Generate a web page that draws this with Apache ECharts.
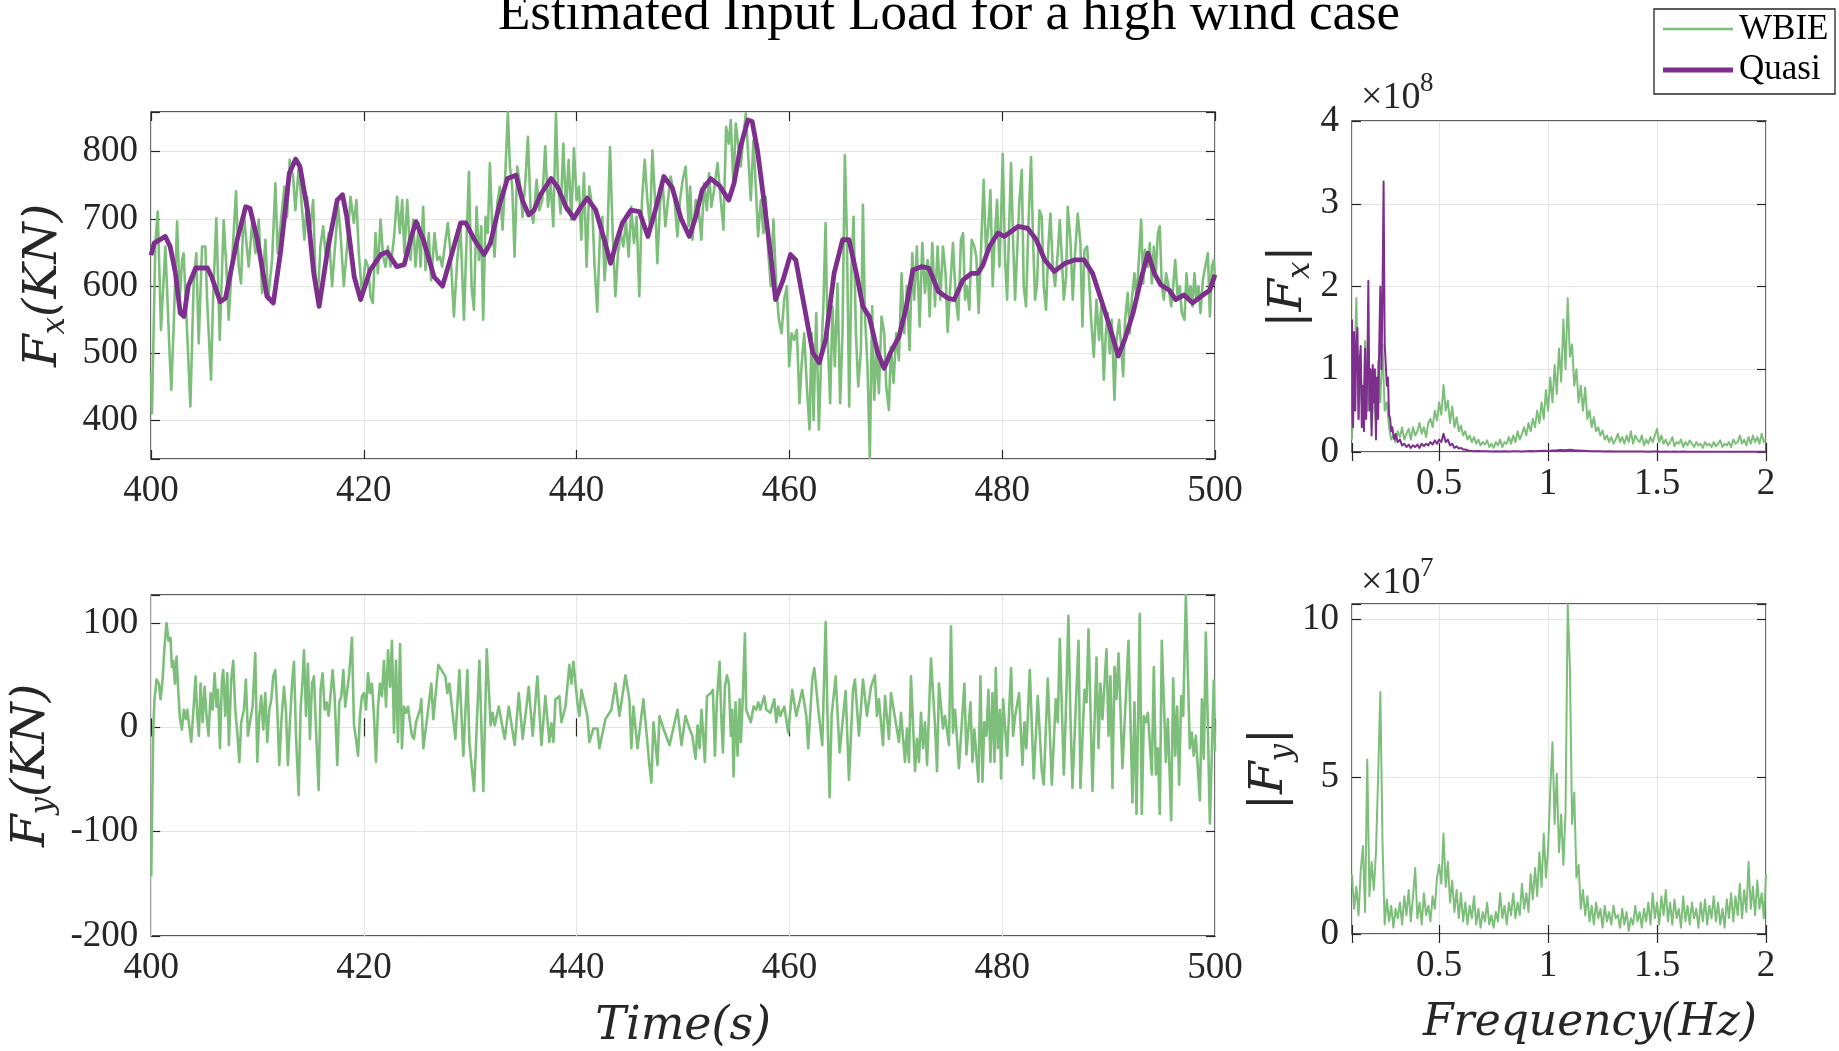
<!DOCTYPE html>
<html><head><meta charset="utf-8">
<script src="https://cdn.jsdelivr.net/npm/echarts@6/dist/echarts.min.js"></script>
<style>html,body{margin:0;padding:0;background:#fff}#c{width:1839px;height:1051px}</style>
</head><body><div id="c"></div>
<script>
// ---------------- data ----------------
const timeTicks = [400, 420, 440, 460, 480, 500];
const fxTicks = [400, 500, 600, 700, 800];
const fyTicks = [-200, -100, 0, 100];
const freqTicks = [0.5, 1, 1.5, 2];
const fxAmpTicks = [0, 1, 2, 3, 4];      // x 10^8
const fyAmpTicks = [0, 5, 10];           // x 10^7

// Fx time history, WBIE (time s, KN)
const wbieFx = [
[400,471],[400.09,411],[400.41,664],[400.63,711],[400.94,535],[401.35,659],[401.76,495],[401.91,446],[402.13,540],[402.45,696],[402.7,580],[402.92,639],[403.07,649],[403.7,421],[404.01,604],[404.26,649],[404.48,515],[404.8,659],[405.11,659],[405.27,580],[405.64,461],[405.83,580],[406.14,701],[406.46,520],[406.83,698],[407.08,629],[407.3,550],[407.77,679],[407.99,741],[408.24,629],[408.46,604],[408.71,713],[408.97,664],[409.18,629],[409.5,694],[409.81,649],[410.13,699],[410.44,590],[410.75,669],[411,580],[411.38,639],[411.69,753],[411.91,649],[412.16,689],[412.54,748],[412.79,703],[413.04,788],[413.35,763],[413.57,713],[413.89,778],[414.2,713],[414.42,669],[414.67,733],[414.98,689],[415.24,728],[415.45,619],[415.67,580],[415.92,659],[416.18,689],[416.4,649],[416.71,679],[417.02,600],[417.34,669],[417.59,718],[417.81,679],[418.12,600],[418.43,659],[418.75,733],[419.06,694],[419.31,728],[419.53,649],[419.84,585],[420.16,639],[420.41,629],[420.63,585],[420.85,575],[421.1,679],[421.32,619],[421.57,699],[421.82,644],[422.04,629],[422.26,659],[422.51,629],[422.82,669],[423.13,733],[423.39,679],[423.61,728],[423.82,649],[424.08,728],[424.39,639],[424.64,699],[424.86,629],[425.17,694],
[425.33,629],[425.58,718],[425.8,624],[426.11,679],[426.33,609],[426.65,679],[426.9,639],[427.15,644],[427.37,629],[427.68,669],[427.9,694],[428.15,649],[428.47,555],[428.78,639],[429.09,688],[429.41,550],[429.66,669],[429.88,770],[430.13,599],[430.35,565],[430.6,718],[430.82,639],[431.04,689],[431.22,550],[431.44,703],[431.66,679],[431.85,783],[432.07,689],[432.29,644],[432.54,723],[432.79,748],[433.04,684],[433.29,763],[433.54,859],[433.73,778],[433.95,748],[434.17,644],[434.42,778],[434.67,753],[434.92,703],[435.17,753],[435.42,822],[435.68,713],[435.93,694],[436.24,758],[436.49,713],[436.77,728],[437.05,808],[437.31,718],[437.56,753],[437.81,689],[438.06,857],[438.25,753],[438.5,708],[438.75,812],[439,713],[439.25,788],[439.5,699],[439.75,805],[440,728],[440.22,748],[440.44,669],[440.69,768],[440.94,629],[441.19,748],[441.47,718],[441.69,629],[441.94,562],[442.2,679],[442.42,703],[442.63,609],[442.89,669],[443.14,807],[443.39,679],[443.64,585],[443.89,649],[444.14,679],[444.39,659],[444.64,698],[444.89,644],[445.14,718],[445.39,664],[445.64,703],[445.89,585],[446.15,728],[446.4,788],[446.65,728],[446.9,689],[447.12,802],[447.34,738],[447.59,634],[447.84,723],[448.09,753],[448.34,689],[448.59,728],[448.84,763],[449.15,738],[449.47,674],[449.72,728],[449.97,758],[450.25,778],[450.53,689],
[450.67,748],[450.89,669],[451.2,728],[451.51,708],[451.73,669],[451.98,753],[452.24,713],[452.45,768],[452.67,718],[452.92,743],[453.24,783],[453.55,728],[453.8,684],[454.05,837],[454.3,812],[454.49,847],[454.74,748],[454.96,842],[455.18,812],[455.43,778],[455.68,822],[455.9,857],[456.12,797],[456.37,728],[456.62,817],[456.84,748],[457.06,674],[457.31,728],[457.56,679],[457.78,733],[458,654],[458.25,600],[458.5,699],[458.76,600],[459.01,550],[459.26,530],[459.51,580],[459.76,600],[459.98,481],[460.2,530],[460.45,520],[460.7,535],[460.95,426],[461.14,481],[461.39,530],[461.64,451],[461.89,387],[462.08,530],[462.27,401],[462.52,560],[462.77,387],[462.96,481],[463.21,580],[463.4,694],[463.58,530],[463.83,426],[464.05,570],[464.27,481],[464.52,604],[464.77,426],[464.99,530],[465.21,795],[465.4,679],[465.62,421],[465.84,629],[466.03,703],[466.25,530],[466.47,451],[466.72,505],[466.91,721],[467.09,560],[467.34,481],[467.56,345],[467.78,570],[467.97,431],[468.19,505],[468.41,441],[468.66,555],[468.91,530],[469.1,451],[469.35,416],[469.54,510],[469.79,456],[470.04,530],[470.29,490],[470.54,619],[470.79,530],[471.04,600],[471.29,505],[471.55,649],[471.73,580],[471.98,659],[472.24,540],[472.49,664],[472.74,590],[472.99,639],[473.18,555],[473.43,664],[473.68,570],[473.93,659],[474.18,580],[474.43,659],[474.68,619],[474.87,532],[475.12,600],[475.37,664],[475.65,580],[475.87,550],[476.12,669],
[476.32,679],[476.51,580],[476.69,600],[476.91,565],[477.13,669],[477.38,659],[477.57,644],[477.79,560],[478.01,654],[478.26,758],[478.48,649],[478.7,689],[478.89,743],[479.11,600],[479.27,664],[479.52,728],[479.74,629],[479.89,698],[480.05,797],[480.27,639],[480.46,580],[480.64,679],[480.83,783],[481.02,669],[481.21,580],[481.4,649],[481.62,728],[481.84,773],[482.02,600],[482.24,570],[482.46,689],[482.71,792],[482.9,669],[483.09,580],[483.28,604],[483.5,713],[483.72,703],[483.9,600],[484.12,565],[484.34,659],[484.53,708],[484.75,629],[484.97,600],[485.22,649],[485.41,698],[485.6,644],[485.79,580],[486.01,614],[486.16,718],[486.41,669],[486.63,580],[486.85,649],[487.1,708],[487.35,664],[487.54,540],[487.73,654],[487.98,659],[488.17,609],[488.36,550],[488.61,495],[488.86,580],[489.11,520],[489.3,570],[489.55,461],[489.74,530],[489.92,560],[490.11,500],[490.3,550],[490.55,431],[490.74,520],[490.99,550],[491.18,510],[491.37,466],[491.55,550],[491.8,590],[491.99,530],[492.18,580],[492.43,619],[492.62,580],[492.81,629],[493.06,699],[493.25,604],[493.43,654],[493.69,629],[493.87,664],[494.06,604],[494.25,659],[494.44,619],[494.63,679],[494.81,689],[495,600],[495.19,580],[495.41,619],[495.63,600],[495.88,570],[496.07,600],[496.26,639],[496.51,580],[496.69,600],[496.88,560],[497.13,550],[497.32,619],[497.51,580],[497.7,600],[497.89,570],[498.07,619],[498.26,580],[498.45,600],[498.64,560],[498.86,609],[499.08,629],[499.33,649],[499.52,555],[499.7,629],[499.89,639],[500,609]
];

// Fx time history, Quasi (time s, KN)
const quasiFx = [
[400,646],[400.3,664],[401.35,674],[401.8,659],[402.3,619],[402.75,560],[403.1,555],[403.5,600],[404.2,627],[405.3,627],[405.7,614],[406.5,577],[407,582],[408.1,669],[408.9,718],[409.3,716],[410,669],[410.9,585],[411.5,575],[412.2,654],[413,768],[413.6,789],[414,778],[414.7,713],[415.3,619],[415.8,570],[416.6,654],[417.5,728],[418,736],[418.4,703],[419.1,614],[419.7,580],[420.6,624],[421.6,647],[422.2,651],[423.1,629],[423.8,632],[424.4,670],[424.9,696],[425.6,669],[426.6,614],[427.4,600],[428.2,644],[429.1,694],[429.6,694],[430.4,669],[431.3,647],[431.9,664],[432.7,718],[433.5,760],[434.3,765],[434.9,728],[435.5,706],[436,713],[436.6,736],[437.6,760],[438.2,748],[439,718],[439.75,701],[440.4,718],[441,731],[441.8,713],[442.6,669],[443.2,634],[443.8,669],[444.3,694],[445.1,713],[445.9,711],[446.7,674],[447.4,713],[448.2,763],[449,746],[449.8,701],[450.6,674],[451.2,703],[451.8,743],[452.6,760],[453.4,750],[454.3,728],[454.8,753],[455.4,807],[456.1,847],[456.5,845],[457,802],[457.6,728],[458.3,639],[458.7,580],[459.4,609],[460.1,647],[460.6,639],[461.4,570],[462.2,501],[462.8,486],[463.4,520],[464.2,619],[465,669],[465.6,669],[466.3,619],[466.9,570],[467.5,555],[468.3,501],[468.9,478],[469.5,501],[470.3,525],[471,570],[471.6,624],[472.4,629],[473.1,627],[474,592],[474.9,582],[475.5,580],[476.3,609],[477.1,619],[477.7,619],[478.2,632],[478.8,659],[479.6,679],[480.2,674],[480.8,681],[481.5,689],[482.4,686],[483.2,669],[484,639],[484.9,622],[485.9,634],[486.8,639],[487.7,639],[488.5,619],[489.3,580],[490.1,540],[490.9,496],[491.5,520],[492.3,560],[493.1,614],[493.7,649],[494.3,619],[494.9,602],[495.7,594],[496.3,580],[497.1,587],[497.9,575],[498.7,585],[499.5,594],[500,617]
];

// Fy time history, WBIE (time s, KN)
const wbieFy = [
[400,-143],[400.06,-96],[400.19,-2],[400.31,27],[400.5,46],[400.72,42],[400.88,27],[401.07,46],[401.25,77],[401.44,100],[401.63,83],[401.82,86],[401.94,58],[402.07,64],[402.23,42],[402.38,68],[402.57,30],[402.7,8],[402.88,-2],[403.07,17],[403.26,8],[403.39,17],[403.57,2],[403.76,-14],[403.95,14],[404.17,49],[404.33,11],[404.48,-8],[404.64,42],[404.83,5],[405.02,39],[405.2,11],[405.39,-8],[405.58,33],[405.77,17],[405.96,52],[406.14,20],[406.27,36],[406.46,-20],[406.65,46],[406.77,55],[406.96,11],[407.15,52],[407.3,-17],[407.52,46],[407.71,64],[407.9,17],[408.09,-5],[408.28,-33],[408.46,5],[408.71,17],[408.9,46],[409.09,-8],[409.28,5],[409.53,20],[409.78,71],[409.97,-33],[410.16,11],[410.34,30],[410.53,-2],[410.72,33],[410.91,-14],[411.1,17],[411.29,27],[411.47,49],[411.66,55],[411.85,17],[412.04,-36],[412.23,5],[412.48,39],[412.66,17],[412.85,-36],[413.04,5],[413.26,46],[413.42,63],[413.61,-8],[413.86,-65],[414.04,17],[414.23,46],[414.36,74],[414.55,11],[414.73,61],[414.92,-11],[415.11,42],[415.3,49],[415.49,-2],[415.74,-60],[415.92,36],[416.11,52],[416.3,17],[416.49,24],[416.68,11],[416.87,33],[417.05,55],[417.24,30],[417.49,-36],[417.68,24],[417.87,30],[418.06,55],[418.24,20],[418.43,36],[418.62,52],[418.87,86],[419.06,2],[419.25,-11],[419.44,-27],[419.62,11],[419.81,30],[420,33],[420.19,17],[420.38,52],[420.56,33],[420.75,42],[420.94,11],[421.13,-33],[421.32,20],[421.5,42],[421.69,30],[421.88,64],[422.07,20],[422.26,74],[422.45,39],[422.63,83],[422.82,-5],[423.01,64],[423.2,-14],[423.39,80],[423.57,-20],[423.76,20],[423.95,14],[424.14,20],[424.33,5],[424.51,-8],[424.7,-11],[424.89,5],[425.08,11],[425.27,17],
[425.39,27],[425.58,-20],[426.33,42],[426.52,8],[426.99,60],[427.65,49],[427.84,33],[428.03,42],[428.59,-11],[428.97,55],[429.34,-27],[429.72,55],[429.91,-14],[430.35,-61],[430.85,64],[431.22,-61],[431.54,75],[431.91,2],[432.1,14],[432.29,2],[432.67,20],[433.23,-11],[433.61,20],[434.17,-17],[434.55,33],[434.92,-11],[435.49,39],[435.86,-8],[436.3,49],[436.68,-17],[437.05,30],[437.43,-14],[437.62,4],[437.81,-14],[438,27],[438.37,30],[438.56,5],[438.94,20],[439.31,60],[439.5,42],[439.69,63],[440.06,24],[440.25,11],[440.44,36],[441,11],[441.19,-14],[441.57,-1],[441.95,-1],[442.13,-20],[442.7,8],[443.26,17],[443.64,42],[444.01,11],[444.58,50],[444.95,27],[445.14,-20],[445.33,20],[445.71,-20],[446.27,27],[446.83,-36],[447.02,-53],[447.21,5],[447.59,-36],[447.78,11],[448.15,-1],[448.72,-17],[449.47,17],[449.85,-17],[450.22,11],[450.6,-1],
[450.86,-8],[451.17,-30],[451.36,2],[451.55,-20],[451.73,17],[452.05,-33],[452.24,30],[452.61,33],[452.8,36],[452.99,-27],[453.18,27],[453.43,63],[453.61,5],[453.74,-24],[453.93,39],[454.12,50],[454.3,42],[454.49,-8],[454.62,17],[454.74,-47],[454.93,24],[455.12,-27],[455.31,27],[455.43,-14],[455.62,30],[455.81,90],[455.93,17],[456.37,5],[456.62,20],[456.87,17],[457.06,24],[457.25,17],[457.63,30],[457.82,17],[458.19,14],[458.57,27],[458.76,5],[458.94,20],[459.13,11],[459.51,20],[459.88,-5],[460.26,36],[460.64,11],[461.2,36],[461.58,11],[461.76,-20],[462.14,46],[462.33,57],[462.71,17],[463.08,-17],[463.4,101],[463.58,8],[463.77,-67],[463.96,11],[464.34,49],[464.71,-24],[465.28,35],[465.59,-50],[465.97,36],[466.15,46],[466.53,-8],[466.91,46],[467.28,11],[467.66,39],[468.03,50],[468.22,11],[468.41,27],[468.79,-17],[468.98,30],[469.35,-11],[469.54,33],[470.29,-14],[470.48,14],[470.86,-33],[471.04,-1],[471.23,-33],[471.42,49],[471.8,-42],[471.98,-11],[472.17,-33],[472.36,14],[472.55,-20],[472.74,5],[472.93,-36],[473.3,66],[473.68,2],[473.87,-42],[474.05,42],[474.43,-1],[474.62,11],[474.99,-17],[475.18,97],[475.37,-5],[475.56,17],[475.93,-39],
[476.44,42],[476.63,-26],[477.01,24],[477.2,-33],[477.38,-2],[477.76,-52],[477.95,49],[478.14,-52],[478.32,5],[478.51,-8],[478.7,36],[478.89,-33],[479.08,33],[479.27,-33],[479.39,57],[479.58,-20],[479.77,17],[479.89,-49],[480.08,27],[480.46,-27],[480.83,57],[481.02,-8],[481.21,11],[481.58,33],[481.9,-36],[482.09,5],[482.27,-20],[482.59,55],[482.96,-49],[483.34,30],[483.72,-42],[483.9,-55],[484.28,47],[484.66,-55],[485.03,27],[485.22,5],[485.41,85],[485.79,-45],[485.97,11],[486.22,107],[486.41,11],[486.6,-58],[486.98,36],[487.17,83],[487.35,-58],[487.73,36],[487.92,24],[488.11,94],[488.48,-61],[488.86,67],[489.05,-20],[489.23,42],[489.42,8],[489.8,75],[489.99,-8],[490.17,49],[490.36,-58],[490.55,58],[490.74,27],[490.93,71],[491.3,-39],[491.68,42],[491.87,83],[492.24,-72],[492.43,24],[492.62,-83],[492.93,109],[493.12,-83],[493.31,11],[493.5,5],[493.69,14],[494.06,-45],[494.25,58],[494.44,-45],[494.63,-20],[494.81,-83],[495,83],[495.38,-33],[495.57,8],[495.88,-89],[496.07,47],[496.26,-27],[496.44,20],[496.63,-55],[496.82,30],[497.01,11],[497.26,127],[497.63,-20],[497.82,-5],[498,-27],[498.2,-8],[498.58,-70],[498.77,27],[498.95,-30],[499.14,91],[499.52,-92],[499.89,45],[500,-23]
];

// FFT frequency bins (Hz)
const fftFreq = [0.1,0.11,0.12,0.13,0.14,0.15,0.16,0.17,0.18,0.19,0.2,0.21,0.22,0.23,0.24,0.25,0.26,0.27,0.28,0.29,0.3,0.31,0.32,0.33,0.34,0.35,0.36,0.37,0.38,0.39,0.4,0.41,0.42,0.43,0.44,0.45,0.46,0.47,0.48,0.49,0.5,0.51,0.52,0.53,0.54,0.55,0.56,0.57,0.58,0.59,0.6,0.61,0.62,0.63,0.64,0.65,0.66,0.67,0.68,0.69,0.7,0.71,0.72,0.73,0.74,0.75,0.76,0.77,0.78,0.79,0.8,0.81,0.82,0.83,0.84,0.85,0.86,0.87,0.88,0.89,0.9,0.91,0.92,0.93,0.94,0.95,0.96,0.97,0.98,0.99,1,1.01,1.02,1.03,1.04,1.05,1.06,1.07,1.08,1.09,1.1,1.11,1.12,1.13,1.14,1.15,1.16,1.17,1.18,1.19,1.2,1.21,1.22,1.23,1.24,1.25,1.26,1.27,1.28,1.29,1.3,1.31,1.32,1.33,1.34,1.35,1.36,1.37,1.38,1.39,1.4,1.41,1.42,1.43,1.44,1.45,1.46,1.47,1.48,1.49,1.5,1.51,1.52,1.53,1.54,1.55,1.56,1.57,1.58,1.59,1.6,1.61,1.62,1.63,1.64,1.65,1.66,1.67,1.68,1.69,1.7,1.71,1.72,1.73,1.74,1.75,1.76,1.77,1.78,1.79,1.8,1.81,1.82,1.83,1.84,1.85,1.86,1.87,1.88,1.89,1.9,1.91,1.92,1.93,1.94,1.95,1.96,1.97,1.98,1.99,2];

// |Fx| spectrum, WBIE (x 10^8), on fftFreq
const wbieFxFFT = [0.15,0.9,1.86,0.4,1.0,0.3,1.34,0.5,0.9,0.3,0.7,0.35,1.1,0.6,1.3,0.5,0.6,0.3,0.15,0.2,0.12,0.25,0.18,0.3,0.15,0.22,0.28,0.15,0.3,0.2,0.25,0.35,0.22,0.3,0.18,0.35,0.4,0.3,0.5,0.38,0.6,0.45,0.81,0.5,0.62,0.35,0.55,0.3,0.42,0.25,0.32,0.2,0.25,0.15,0.2,0.12,0.18,0.1,0.15,0.08,0.12,0.09,0.14,0.06,0.1,0.05,0.12,0.08,0.15,0.06,0.12,0.1,0.18,0.1,0.2,0.12,0.25,0.15,0.22,0.3,0.2,0.35,0.25,0.4,0.3,0.5,0.35,0.6,0.4,0.75,0.5,0.9,0.6,1.05,0.7,1.25,0.85,1.6,1.0,1.86,1.15,1.3,0.8,1.0,0.6,0.8,0.5,0.78,0.4,0.5,0.3,0.42,0.25,0.3,0.2,0.26,0.15,0.2,0.12,0.18,0.1,0.15,0.22,0.12,0.18,0.1,0.2,0.12,0.25,0.1,0.2,0.15,0.12,0.2,0.08,0.15,0.1,0.18,0.12,0.2,0.28,0.12,0.2,0.1,0.15,0.08,0.12,0.18,0.07,0.12,0.1,0.15,0.06,0.12,0.08,0.14,0.1,0.06,0.12,0.08,0.1,0.05,0.12,0.08,0.1,0.06,0.12,0.07,0.1,0.14,0.06,0.1,0.08,0.12,0.06,0.15,0.1,0.12,0.2,0.1,0.15,0.08,0.18,0.1,0.2,0.12,0.18,0.1,0.22,0.12,0.16];

// |Fx| spectrum, Quasi (Hz, x 10^8)
const quasiFxFFT = [
[0.1,1.6],[0.105,0.3],[0.11,1.45],[0.115,0.5],[0.12,1.3],[0.125,1.5],[0.13,0.4],[0.135,1.1],[0.14,1.28],[0.145,0.3],[0.15,0.8],[0.155,0.25],[0.16,1.25],[0.165,0.4],[0.17,0.9],[0.175,2.07],[0.18,0.5],[0.185,1.0],[0.19,0.2],[0.195,1.05],[0.2,0.6],[0.205,1.0],[0.21,0.15],[0.215,0.9],[0.22,0.4],[0.225,1.3],[0.23,2.0],[0.235,1.0],[0.24,1.9],[0.245,3.27],[0.25,1.3],[0.255,1.3],[0.26,0.8],[0.265,0.9],[0.27,0.45],[0.275,0.4],[0.28,0.25],[0.285,0.3],[0.29,0.2],[0.295,0.15],[0.3,0.22],
[0.31,0.12],[0.32,0.15],[0.33,0.08],[0.34,0.1],[0.35,0.06],[0.36,0.09],[0.37,0.05],[0.38,0.08],[0.39,0.06],[0.4,0.09],[0.41,0.05],[0.42,0.1],[0.43,0.07],[0.44,0.1],[0.45,0.08],[0.46,0.12],[0.47,0.09],[0.48,0.14],[0.49,0.1],[0.5,0.15],[0.51,0.12],[0.52,0.22],[0.53,0.12],[0.54,0.15],[0.55,0.08],[0.56,0.1],[0.57,0.05],[0.58,0.07],[0.59,0.04],[0.6,0.05],[0.61,0.03],[0.62,0.03],[0.63,0.02],
[0.64,0.015],[0.66,0.01],[0.68,0.012],[0.7,0.008],[0.72,0.01],[0.74,0.006],[0.76,0.009],[0.78,0.007],[0.8,0.01],[0.82,0.006],[0.84,0.008],[0.86,0.01],[0.88,0.007],[0.9,0.01],[0.92,0.012],[0.94,0.009],[0.96,0.012],[0.98,0.015],[1,0.012],[1.02,0.018],[1.04,0.02],[1.06,0.025],[1.08,0.022],[1.1,0.028],[1.12,0.02],[1.14,0.018],[1.16,0.015],[1.18,0.012],[1.2,0.01],[1.22,0.008],[1.24,0.01],[1.26,0.007],[1.28,0.008],[1.3,0.006],[1.32,0.007],[1.34,0.005],[1.36,0.006],[1.38,0.005],[1.4,0.007],[1.42,0.005],[1.44,0.006],[1.46,0.004],[1.48,0.006],[1.5,0.005],[1.52,0.004],[1.54,0.005],[1.56,0.004],[1.58,0.005],[1.6,0.004],[1.62,0.005],[1.64,0.003],[1.66,0.004],[1.68,0.004],[1.7,0.003],[1.72,0.004],[1.74,0.003],[1.76,0.004],[1.78,0.003],[1.8,0.004],[1.82,0.003],[1.84,0.003],[1.86,0.004],[1.88,0.003],[1.9,0.003],[1.92,0.004],[1.94,0.003],[1.96,0.003],[1.98,0.003],[2,0.003]
];

// |Fy| spectrum, WBIE (x 10^7), on fftFreq
const wbieFyFFT = [1.9,0.8,1.5,0.6,2.0,2.8,0.7,5.55,1.2,2.3,1.4,2.6,5.0,7.7,2.9,0.3,1.1,0.4,0.9,0.2,0.8,0.5,1.0,0.3,1.2,0.6,1.4,0.4,1.2,2.1,0.5,1.0,0.3,1.3,0.6,0.9,0.4,1.2,0.8,1.8,2.2,1.6,3.2,1.5,2.3,1.0,1.7,0.7,1.4,0.5,1.3,0.4,1.0,0.3,0.9,0.5,1.2,0.3,0.8,0.2,0.7,0.4,1.0,0.3,0.6,0.2,0.7,0.4,1.3,0.5,0.9,0.3,1.0,0.6,1.3,0.5,1.0,0.6,1.6,0.8,1.3,0.7,1.9,1.1,2.1,1.2,2.6,1.5,3.2,1.8,2.7,4.6,6.1,3.5,5.1,2.6,3.8,2.2,3.9,10.5,8.5,3.5,4.5,1.8,2.2,0.8,1.4,0.6,1.2,0.4,0.9,0.3,1.0,0.5,0.8,0.2,0.9,0.4,0.7,0.3,0.9,0.5,0.6,0.2,0.8,0.3,0.7,0.1,0.5,0.3,0.9,0.4,0.7,0.2,0.8,0.4,1.0,0.3,1.3,0.5,1.0,0.3,1.2,0.6,1.4,0.4,1.0,0.3,1.1,0.5,0.8,0.2,1.2,0.4,0.9,0.3,1.0,0.5,0.8,0.2,1.0,0.4,1.1,0.3,0.9,0.5,1.2,0.4,1.0,0.3,0.8,0.2,1.1,0.5,1.3,0.4,1.2,0.6,1.6,0.5,1.4,0.7,2.3,0.8,1.5,0.6,1.7,0.8,1.3,0.5,1.9];

// ---------------- chart ----------------
const SERIF = "'Liberation Serif','Times New Roman',serif";
const MATH = "'DejaVu Serif',serif";
const GREEN = '#7dbf7a', PURPLE = '#7e2f8e', AX = '#262626', GRIDC = '#e4e4e4';
const LBL_SIZE = 37;

function near(list, v) { return list.some(t => Math.abs(t - v) < 1e-6); }
function fmt(list) { return v => near(list, v) ? String(+(+v).toFixed(2)) : ''; }

const grids = [
  {left: 151, top: 112, width: 1064, height: 347},
  {left: 1352, top: 121, width: 414, height: 331},
  {left: 151, top: 595, width: 1064, height: 346},
  {left: 1352, top: 604, width: 414, height: 330}
].map(g => Object.assign({show: true, borderColor: AX, borderWidth: 1.3, backgroundColor: '#fff'}, g));

const tick = {show: true, inside: true, length: 9, lineStyle: {color: AX, width: 1.2}};
function axisPair(kind, gi, range, ticks, nameCfg) {
  const main = Object.assign({
    gridIndex: gi, type: 'value', position: kind === 'x' ? 'bottom' : 'left',
    axisLine: {show: false}, axisTick: tick,
    splitLine: {show: true, lineStyle: {color: GRIDC, width: 1}},
    axisLabel: {fontFamily: SERIF, fontSize: LBL_SIZE, color: AX, margin: kind === 'x' ? 14 : 13, formatter: fmt(ticks)}
  }, range, nameCfg || {});
  const twin = Object.assign({
    gridIndex: gi, type: 'value', position: kind === 'x' ? 'top' : 'right',
    axisLine: {show: false}, axisTick: tick, splitLine: {show: false}, axisLabel: {show: false}
  }, range);
  return [main, twin];
}

const nameRich = {
  i: {fontFamily: MATH, fontStyle: 'italic', fontSize: 47, lineHeight: 56, color: AX},
  u: {fontFamily: MATH, fontSize: 47, lineHeight: 56, color: AX},
  s: {fontFamily: MATH, fontStyle: 'italic', fontSize: 31, lineHeight: 30, verticalAlign: 'bottom', color: AX}
};

const xAxis = [].concat(
  axisPair('x', 0, {min: 400, max: 500, interval: 20}, timeTicks),
  axisPair('x', 1, {min: 0.1, max: 2, minInterval: 0.5, maxInterval: 0.5}, freqTicks),
  axisPair('x', 2, {min: 400, max: 500, interval: 20}, timeTicks,
    {name: 'Time(s)', nameLocation: 'middle', nameGap: 68,
     nameTextStyle: {fontFamily: MATH, fontStyle: 'italic', fontSize: 46, color: AX}}),
  axisPair('x', 3, {min: 0.1, max: 2, minInterval: 0.5, maxInterval: 0.5}, freqTicks,
    {name: 'Frequency(Hz)', nameLocation: 'middle', nameGap: 68,
     nameTextStyle: {fontFamily: MATH, fontStyle: 'italic', fontSize: 44, color: AX, padding: [0, 0, 0, 62]}})
);
const yAxis = [].concat(
  axisPair('y', 0, {min: 343, max: 859, minInterval: 100, maxInterval: 100}, fxTicks,
    {name: '{i|F}{s|x}{i|(KN)}', nameLocation: 'middle', nameRotate: 90, nameGap: 63, nameTextStyle: {rich: nameRich}}),
  axisPair('y', 1, {min: 0, max: 4, interval: 1}, fxAmpTicks,
    {name: '{u||}{i|F}{s|x}{u||}', nameLocation: 'middle', nameRotate: 90, nameGap: 24, nameTextStyle: {rich: nameRich}}),
  axisPair('y', 2, {min: -200, max: 127, interval: 100}, fyTicks,
    {name: '{i|F}{s|y}{i|(KN)}', nameLocation: 'middle', nameRotate: 90, nameGap: 80, nameTextStyle: {rich: nameRich}}),
  axisPair('y', 3, {min: 0, max: 10.5, interval: 5}, fyAmpTicks,
    {name: '{u||}{i|F}{s|y}{u||}', nameLocation: 'middle', nameRotate: 90, nameGap: 37, nameTextStyle: {rich: nameRich}})
);

function line(name, gi, data, color, width) {
  return {name, type: 'line', xAxisIndex: 2 * gi, yAxisIndex: 2 * gi, data,
    showSymbol: false, symbol: 'none', smooth: false, sampling: null,
    lineStyle: {color, width, join: 'round'}, itemStyle: {color}, emphasis: {disabled: true}};
}

const series = [
  line('WBIE', 0, wbieFx, GREEN, 2.6),
  line('Quasi', 0, quasiFx, PURPLE, 4.8),
  line('WBIE', 1, fftFreq.map((f, i) => [f, wbieFxFFT[i]]), GREEN, 2),
  line('Quasi', 1, quasiFxFFT, PURPLE, 2),
  line('WBIE', 2, wbieFy, GREEN, 2.6),
  line('WBIE', 3, fftFreq.map((f, i) => [f, wbieFyFFT[i]]), GREEN, 2)
];

const graphic = [
  {type: 'text', style: {text: 'Estimated Input Load for a high wind case',
    x: 949, y: 15, textAlign: 'center', textVerticalAlign: 'middle', fontFamily: SERIF, fontSize: 53, fill: '#000'}},
  // exponent labels
  {type: 'text', style: {text: '\u00d710', x: 1361, y: 98, textAlign: 'left', textVerticalAlign: 'middle', fontFamily: SERIF, fontSize: 38, fill: AX}},
  {type: 'text', style: {text: '8', x: 1420, y: 84, textAlign: 'left', textVerticalAlign: 'middle', fontFamily: SERIF, fontSize: 27, fill: AX}},
  {type: 'text', style: {text: '\u00d710', x: 1361, y: 583, textAlign: 'left', textVerticalAlign: 'middle', fontFamily: SERIF, fontSize: 38, fill: AX}},
  {type: 'text', style: {text: '7', x: 1420, y: 569, textAlign: 'left', textVerticalAlign: 'middle', fontFamily: SERIF, fontSize: 27, fill: AX}},
  // legend
  {type: 'rect', shape: {x: 1654, y: 9, width: 181, height: 85}, style: {fill: '#fff', stroke: AX, lineWidth: 1.3}},
  {type: 'line', shape: {x1: 1663, y1: 29, x2: 1733, y2: 29}, style: {stroke: GREEN, lineWidth: 2.6}},
  {type: 'line', shape: {x1: 1663, y1: 70, x2: 1733, y2: 70}, style: {stroke: PURPLE, lineWidth: 4.8}},
  {type: 'text', style: {text: 'WBIE', x: 1739, y: 30, textAlign: 'left', textVerticalAlign: 'middle', fontFamily: SERIF, fontSize: 35, fill: '#000'}},
  {type: 'text', style: {text: 'Quasi', x: 1739, y: 70, textAlign: 'left', textVerticalAlign: 'middle', fontFamily: SERIF, fontSize: 35, fill: '#000'}}
];

const chart = echarts.init(document.getElementById('c'), null, {renderer: 'canvas'});
chart.setOption({
  animation: false,
  backgroundColor: '#fff',
  grid: grids,
  xAxis, yAxis, series, graphic,
  tooltip: {show: false}
});
</script>
</body></html>
